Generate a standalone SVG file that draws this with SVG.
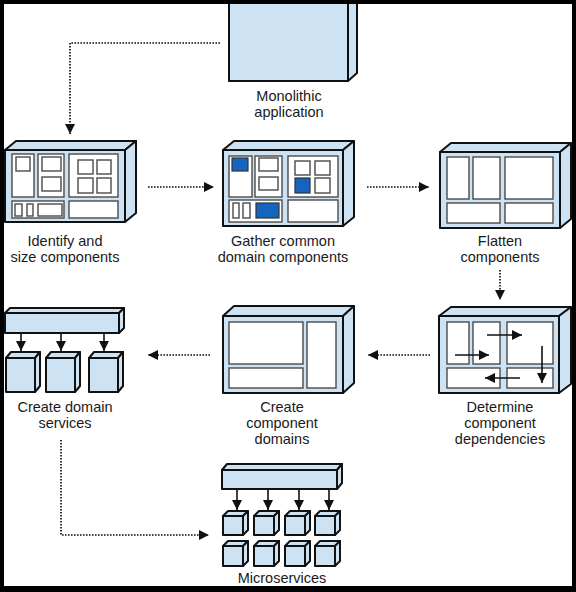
<svg xmlns="http://www.w3.org/2000/svg" width="576" height="592" viewBox="0 0 576 592">
<defs>
<style>
.bx{fill:#cde2f2;stroke:#111;stroke-width:2;stroke-linejoin:round}
.pn{fill:#fff;stroke:#4a4a4a;stroke-width:1.4}
.bl{fill:#1565c0;stroke:#333;stroke-width:1.2}
.dot{fill:none;stroke:#111;stroke-width:1.7;stroke-dasharray:1.6 1.4}
.sa{fill:none;stroke:#111;stroke-width:1.6}
.lb{font-family:"Liberation Sans",Arial,sans-serif;font-size:14.5px;fill:#1a1a1a;text-anchor:middle}
</style>
<marker id="ah" viewBox="0 0 10 10" refX="10" refY="5" markerWidth="10" markerHeight="10" markerUnits="userSpaceOnUse" orient="auto">
<path d="M0,0L10,5L0,10Z" fill="#111"/>
</marker>
</defs>
<rect x="0" y="0" width="576" height="592" fill="#fff"/>

<g id="monolith">
<rect class="bx" x="229" y="-4" width="119" height="85"/>
<polygon class="bx" points="348,-4 357,-12 357,73 348,81"/>
<text class="lb" x="289" y="101">Monolithic</text>
<text class="lb" x="289" y="117">application</text>
</g>

<g id="identify">
<polygon class="bx" points="5,150 16,141 136,141 125,150"/>
<polygon class="bx" points="125,150 136,141 136,213 125,222"/>
<rect class="bx" x="5" y="150" width="120" height="72"/>
<rect class="pn" x="12" y="154" width="22" height="43"/>
<rect class="pn" x="38" y="154" width="26" height="43"/>
<rect class="pn" x="69" y="154" width="49" height="43"/>
<rect class="pn" x="12" y="201" width="52" height="17"/>
<rect class="pn" x="69" y="201" width="49" height="17"/>
<rect class="pn" x="16" y="157" width="14" height="14"/>
<rect class="pn" x="42" y="157" width="19" height="14"/>
<rect class="pn" x="42" y="177" width="19" height="14"/>
<rect class="pn" x="78" y="160" width="15" height="14"/>
<rect class="pn" x="97" y="160" width="14" height="14"/>
<rect class="pn" x="78" y="178" width="15" height="15"/>
<rect class="pn" x="97" y="178" width="14" height="15"/>
<rect class="pn" x="15" y="204" width="7" height="12"/>
<rect class="pn" x="27" y="204" width="6" height="12"/>
<rect class="pn" x="38" y="204" width="24" height="12"/>
<text class="lb" x="65" y="246">Identify and</text>
<text class="lb" x="65" y="262">size components</text>
</g>

<g id="gather">
<polygon class="bx" points="223,150 234,141 354,141 343,150"/>
<polygon class="bx" points="343,150 354,141 354,217 343,226"/>
<rect class="bx" x="223" y="150" width="120" height="76"/>
<rect class="pn" x="229" y="156" width="23" height="41"/>
<rect class="pn" x="255" y="156" width="27" height="41"/>
<rect class="pn" x="288" y="156" width="50" height="41"/>
<rect class="pn" x="229" y="200" width="53" height="22"/>
<rect class="pn" x="288" y="200" width="50" height="22"/>
<rect class="bl" x="232" y="158" width="16" height="13"/>
<rect class="pn" x="259" y="158" width="19" height="13"/>
<rect class="pn" x="259" y="177" width="19" height="13"/>
<rect class="pn" x="295" y="161" width="15" height="14"/>
<rect class="pn" x="315" y="161" width="15" height="14"/>
<rect class="bl" x="295" y="178" width="15" height="15"/>
<rect class="pn" x="315" y="178" width="15" height="15"/>
<rect class="pn" x="233" y="203" width="6" height="15"/>
<rect class="pn" x="243" y="203" width="7" height="15"/>
<rect class="bl" x="256" y="203" width="23" height="15"/>
<text class="lb" x="283" y="246">Gather common</text>
<text class="lb" x="283" y="262">domain components</text>
</g>

<g id="flatten">
<polygon class="bx" points="440,152 451,143 571,143 560,152"/>
<polygon class="bx" points="560,152 571,143 571,219 560,228"/>
<rect class="bx" x="440" y="152" width="120" height="76"/>
<rect class="pn" x="447" y="157" width="22" height="42"/>
<rect class="pn" x="473" y="157" width="27" height="42"/>
<rect class="pn" x="505" y="157" width="48" height="42"/>
<rect class="pn" x="447" y="203" width="53" height="20"/>
<rect class="pn" x="505" y="203" width="48" height="20"/>
<text class="lb" x="500" y="246">Flatten</text>
<text class="lb" x="500" y="262">components</text>
</g>

<g id="determine">
<polygon class="bx" points="439,316 451,307 571,307 559,316"/>
<polygon class="bx" points="559,316 571,307 571,384 559,393"/>
<rect class="bx" x="439" y="316" width="120" height="77"/>
<rect class="pn" x="447" y="322" width="22" height="42"/>
<rect class="pn" x="473" y="322" width="27" height="42"/>
<rect class="pn" x="507" y="322" width="46" height="42"/>
<rect class="pn" x="447" y="368" width="53" height="20"/>
<rect class="pn" x="507" y="368" width="46" height="20"/>
<path class="sa" d="M455,355H489" marker-end="url(#ah)"/>
<path class="sa" d="M487,335H522" marker-end="url(#ah)"/>
<path class="sa" d="M542,346V383" marker-end="url(#ah)"/>
<path class="sa" d="M520,378H485" marker-end="url(#ah)"/>
<text class="lb" x="500" y="412">Determine</text>
<text class="lb" x="500" y="428">component</text>
<text class="lb" x="500" y="444">dependencies</text>
</g>

<g id="domains">
<polygon class="bx" points="223,316 234,306 354,306 343,316"/>
<polygon class="bx" points="343,316 354,306 354,383 343,393"/>
<rect class="bx" x="223" y="316" width="120" height="77"/>
<rect class="pn" x="229" y="322" width="74" height="42"/>
<rect class="pn" x="229" y="368" width="74" height="20"/>
<rect class="pn" x="307" y="322" width="29" height="66"/>
<text class="lb" x="282" y="412">Create</text>
<text class="lb" x="282" y="428">component</text>
<text class="lb" x="282" y="444">domains</text>
</g>

<g id="services">
<polygon class="bx" points="5,313 10,308 124,308 119,313"/>
<polygon class="bx" points="119,313 124,308 124,328 119,333"/>
<rect class="bx" x="5" y="313" width="114" height="20"/>
<path class="sa" d="M21,333V351" marker-end="url(#ah)"/>
<path class="sa" d="M61,333V351" marker-end="url(#ah)"/>
<path class="sa" d="M104,333V351" marker-end="url(#ah)"/>
<polygon class="bx" points="6,358 11,352 40,352 35,358"/>
<polygon class="bx" points="35,358 40,352 40,386 35,392"/>
<rect class="bx" x="6" y="358" width="29" height="34"/>
<polygon class="bx" points="46,358 51,352 80,352 75,358"/>
<polygon class="bx" points="75,358 80,352 80,386 75,392"/>
<rect class="bx" x="46" y="358" width="29" height="34"/>
<polygon class="bx" points="89,358 94,352 123,352 118,358"/>
<polygon class="bx" points="118,358 123,352 123,386 118,392"/>
<rect class="bx" x="89" y="358" width="29" height="34"/>
<text class="lb" x="65" y="412">Create domain</text>
<text class="lb" x="65" y="428">services</text>
</g>

<g id="microservices">
<polygon class="bx" points="222,470 227,464 342,464 337,470"/>
<polygon class="bx" points="337,470 342,464 342,483 337,489"/>
<rect class="bx" x="222" y="470" width="115" height="19"/>
<path class="sa" d="M237,489V510" marker-end="url(#ah)"/>
<path class="sa" d="M268,489V510" marker-end="url(#ah)"/>
<path class="sa" d="M299,489V510" marker-end="url(#ah)"/>
<path class="sa" d="M329,489V510" marker-end="url(#ah)"/>
<g id="cube-row1">
<polygon class="bx" points="223,516 228,511 248,511 243,516"/><polygon class="bx" points="243,516 248,511 248,530 243,535"/><rect class="bx" x="223" y="516" width="20" height="19"/>
<polygon class="bx" points="254,516 259,511 279,511 274,516"/><polygon class="bx" points="274,516 279,511 279,530 274,535"/><rect class="bx" x="254" y="516" width="20" height="19"/>
<polygon class="bx" points="285,516 290,511 310,511 305,516"/><polygon class="bx" points="305,516 310,511 310,530 305,535"/><rect class="bx" x="285" y="516" width="20" height="19"/>
<polygon class="bx" points="315,516 320,511 340,511 335,516"/><polygon class="bx" points="335,516 340,511 340,530 335,535"/><rect class="bx" x="315" y="516" width="20" height="19"/>
</g>
<g id="cube-row2">
<polygon class="bx" points="223,546 228,541 248,541 243,546"/><polygon class="bx" points="243,546 248,541 248,561 243,566"/><rect class="bx" x="223" y="546" width="20" height="20"/>
<polygon class="bx" points="254,546 259,541 279,541 274,546"/><polygon class="bx" points="274,546 279,541 279,561 274,566"/><rect class="bx" x="254" y="546" width="20" height="20"/>
<polygon class="bx" points="285,546 290,541 310,541 305,546"/><polygon class="bx" points="305,546 310,541 310,561 305,566"/><rect class="bx" x="285" y="546" width="20" height="20"/>
<polygon class="bx" points="315,546 320,541 340,541 335,546"/><polygon class="bx" points="335,546 340,541 340,561 335,566"/><rect class="bx" x="315" y="546" width="20" height="20"/>
</g>
<text class="lb" x="282" y="583">Microservices</text>
</g>

<g id="connectors">
<path class="dot" d="M220,43H70V134" marker-end="url(#ah)"/>
<path class="dot" d="M148,187H214" marker-end="url(#ah)"/>
<path class="dot" d="M367,187H429" marker-end="url(#ah)"/>
<path class="dot" d="M500,270V300" marker-end="url(#ah)"/>
<path class="dot" d="M430,355H368" marker-end="url(#ah)"/>
<path class="dot" d="M210,355H148" marker-end="url(#ah)"/>
<path class="dot" d="M61,440V535H209" marker-end="url(#ah)"/>
</g>

<path d="M0,0H576V592H0Z M4,4V586H572V4Z" fill="#000" fill-rule="evenodd"/>
</svg>
